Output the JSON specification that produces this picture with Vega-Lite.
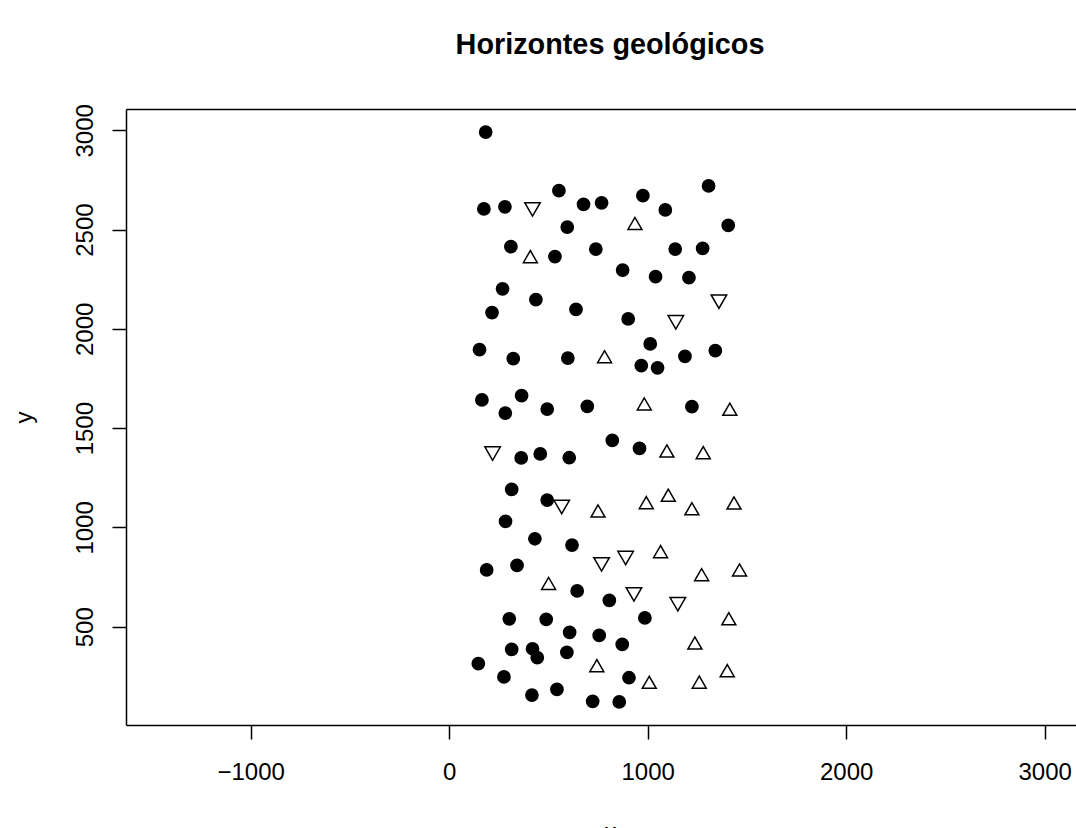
{
  "$schema": "https://vega.github.io/schema/vega-lite/v6.json",
  "width": 950,
  "height": 616,
  "autosize": {"type": "none"},
  "padding": {"left": 126, "top": 109, "right": 0, "bottom": 103},
  "background": "white",
  "config": {"view": {"stroke": null}, "font": "Liberation Sans"},
  "title": {
    "text": "Horizontes geológicos",
    "fontSize": 28.8,
    "fontWeight": "bold",
    "font": "Liberation Sans",
    "color": "black",
    "anchor": "middle",
    "dx": 9,
    "baseline": "alphabetic",
    "offset": 21
  },
  "data": {
    "values": [
      {"x": 184, "y": 2991, "grupo": "H1"},
      {"x": 1307, "y": 2720, "grupo": "H1"},
      {"x": 553, "y": 2696, "grupo": "H1"},
      {"x": 976, "y": 2671, "grupo": "H1"},
      {"x": 677, "y": 2627, "grupo": "H1"},
      {"x": 768, "y": 2635, "grupo": "H1"},
      {"x": 175, "y": 2604, "grupo": "H1"},
      {"x": 281, "y": 2615, "grupo": "H1"},
      {"x": 1089, "y": 2599, "grupo": "H1"},
      {"x": 595, "y": 2513, "grupo": "H1"},
      {"x": 1406, "y": 2521, "grupo": "H1"},
      {"x": 311, "y": 2414, "grupo": "H1"},
      {"x": 533, "y": 2364, "grupo": "H1"},
      {"x": 739, "y": 2402, "grupo": "H1"},
      {"x": 1139, "y": 2402, "grupo": "H1"},
      {"x": 1277, "y": 2406, "grupo": "H1"},
      {"x": 874, "y": 2296, "grupo": "H1"},
      {"x": 1040, "y": 2263, "grupo": "H1"},
      {"x": 1208, "y": 2258, "grupo": "H1"},
      {"x": 269, "y": 2202, "grupo": "H1"},
      {"x": 437, "y": 2147, "grupo": "H1"},
      {"x": 216, "y": 2082, "grupo": "H1"},
      {"x": 639, "y": 2098, "grupo": "H1"},
      {"x": 902, "y": 2050, "grupo": "H1"},
      {"x": 153, "y": 1895, "grupo": "H1"},
      {"x": 323, "y": 1850, "grupo": "H1"},
      {"x": 598, "y": 1853, "grupo": "H1"},
      {"x": 1013, "y": 1924, "grupo": "H1"},
      {"x": 968, "y": 1815, "grupo": "H1"},
      {"x": 1050, "y": 1804, "grupo": "H1"},
      {"x": 1188, "y": 1862, "grupo": "H1"},
      {"x": 1341, "y": 1890, "grupo": "H1"},
      {"x": 165, "y": 1642, "grupo": "H1"},
      {"x": 365, "y": 1664, "grupo": "H1"},
      {"x": 283, "y": 1576, "grupo": "H1"},
      {"x": 494, "y": 1596, "grupo": "H1"},
      {"x": 696, "y": 1610, "grupo": "H1"},
      {"x": 1223, "y": 1608, "grupo": "H1"},
      {"x": 822, "y": 1439, "grupo": "H1"},
      {"x": 959, "y": 1398, "grupo": "H1"},
      {"x": 363, "y": 1350, "grupo": "H1"},
      {"x": 459, "y": 1370, "grupo": "H1"},
      {"x": 605, "y": 1351, "grupo": "H1"},
      {"x": 315, "y": 1192, "grupo": "H1"},
      {"x": 494, "y": 1138, "grupo": "H1"},
      {"x": 284, "y": 1031, "grupo": "H1"},
      {"x": 432, "y": 943, "grupo": "H1"},
      {"x": 619, "y": 911, "grupo": "H1"},
      {"x": 189, "y": 786, "grupo": "H1"},
      {"x": 342, "y": 809, "grupo": "H1"},
      {"x": 645, "y": 680, "grupo": "H1"},
      {"x": 807, "y": 633, "grupo": "H1"},
      {"x": 303, "y": 540, "grupo": "H1"},
      {"x": 489, "y": 537, "grupo": "H1"},
      {"x": 986, "y": 544, "grupo": "H1"},
      {"x": 607, "y": 472, "grupo": "H1"},
      {"x": 756, "y": 456, "grupo": "H1"},
      {"x": 872, "y": 411, "grupo": "H1"},
      {"x": 315, "y": 386, "grupo": "H1"},
      {"x": 420, "y": 389, "grupo": "H1"},
      {"x": 444, "y": 344, "grupo": "H1"},
      {"x": 593, "y": 371, "grupo": "H1"},
      {"x": 147, "y": 314, "grupo": "H1"},
      {"x": 276, "y": 247, "grupo": "H1"},
      {"x": 906, "y": 243, "grupo": "H1"},
      {"x": 417, "y": 156, "grupo": "H1"},
      {"x": 543, "y": 184, "grupo": "H1"},
      {"x": 723, "y": 124, "grupo": "H1"},
      {"x": 857, "y": 121, "grupo": "H1"},
      {"x": 936, "y": 2531, "grupo": "H2"},
      {"x": 409, "y": 2364, "grupo": "H2"},
      {"x": 783, "y": 1860, "grupo": "H2"},
      {"x": 983, "y": 1622, "grupo": "H2"},
      {"x": 1414, "y": 1595, "grupo": "H2"},
      {"x": 1097, "y": 1385, "grupo": "H2"},
      {"x": 1280, "y": 1377, "grupo": "H2"},
      {"x": 993, "y": 1125, "grupo": "H2"},
      {"x": 1104, "y": 1162, "grupo": "H2"},
      {"x": 1223, "y": 1094, "grupo": "H2"},
      {"x": 1435, "y": 1123, "grupo": "H2"},
      {"x": 750, "y": 1083, "grupo": "H2"},
      {"x": 1065, "y": 878, "grupo": "H2"},
      {"x": 1272, "y": 762, "grupo": "H2"},
      {"x": 1463, "y": 786, "grupo": "H2"},
      {"x": 501, "y": 718, "grupo": "H2"},
      {"x": 1409, "y": 540, "grupo": "H2"},
      {"x": 1238, "y": 418, "grupo": "H2"},
      {"x": 744, "y": 304, "grupo": "H2"},
      {"x": 1008, "y": 220, "grupo": "H2"},
      {"x": 1260, "y": 221, "grupo": "H2"},
      {"x": 1401, "y": 279, "grupo": "H2"},
      {"x": 420, "y": 2602, "grupo": "H3"},
      {"x": 1359, "y": 2137, "grupo": "H3"},
      {"x": 1142, "y": 2033, "grupo": "H3"},
      {"x": 219, "y": 1372, "grupo": "H3"},
      {"x": 567, "y": 1103, "grupo": "H3"},
      {"x": 768, "y": 814, "grupo": "H3"},
      {"x": 889, "y": 846, "grupo": "H3"},
      {"x": 931, "y": 663, "grupo": "H3"},
      {"x": 1152, "y": 613, "grupo": "H3"}
    ]
  },
  "layer": [
    {
      "mark": {"type": "point", "filled": true, "opacity": 1, "strokeWidth": 1.5},
      "encoding": {
        "x": {
          "field": "x",
          "type": "quantitative",
          "scale": {"domain": [-1628, 3158], "nice": false, "zero": false},
          "axis": {
            "orient": "bottom",
            "values": [-1000, 0, 1000, 2000, 3000],
            "format": "d",
            "grid": false,
            "domainColor": "black",
            "domainWidth": 1.5,
            "tickColor": "black",
            "tickWidth": 1.5,
            "tickSize": 14,
            "labelFontSize": 24,
            "labelFont": "Liberation Sans",
            "labelColor": "black",
            "labelBaseline": "alphabetic",
            "labelPadding": 40,
            "labelFlush": false,
            "labelOverlap": false,
            "title": "x",
            "titleFont": "Liberation Sans",
            "titleFontSize": 24,
            "titleFontWeight": "normal",
            "titleColor": "black",
            "titleX": 484,
            "titleY": 114,
            "titleAlign": "center",
            "titleBaseline": "alphabetic"
          }
        },
        "y": {
          "field": "y",
          "type": "quantitative",
          "scale": {"domain": [5, 3107.4], "nice": false, "zero": false},
          "axis": {
            "orient": "left",
            "values": [500, 1000, 1500, 2000, 2500, 3000],
            "format": "d",
            "grid": false,
            "domainColor": "black",
            "domainWidth": 1.5,
            "tickColor": "black",
            "tickWidth": 1.5,
            "tickSize": 14,
            "labelFontSize": 24,
            "labelFont": "Liberation Sans",
            "labelColor": "black",
            "labelAngle": -90,
            "labelAlign": "center",
            "labelBaseline": "alphabetic",
            "labelPadding": 20,
            "labelFlush": false,
            "labelOverlap": false,
            "title": "y",
            "titleFont": "Liberation Sans",
            "titleFontSize": 24,
            "titleFontWeight": "normal",
            "titleColor": "black",
            "titleAngle": -90,
            "titleX": -95,
            "titleY": 308,
            "titleAlign": "center",
            "titleBaseline": "alphabetic"
          }
        },
        "shape": {
          "field": "grupo",
          "type": "nominal",
          "scale": {"domain": ["H1", "H2", "H3"], "range": ["circle", "triangle-up", "triangle-down"]},
          "legend": null
        },
        "fill": {
          "field": "grupo",
          "type": "nominal",
          "scale": {"domain": ["H1", "H2", "H3"], "range": ["black", "transparent", "transparent"]},
          "legend": null
        },
        "size": {
          "field": "grupo",
          "type": "nominal",
          "scale": {"domain": ["H1", "H2", "H3"], "range": [150, 240, 240]},
          "legend": null
        },
        "stroke": {"value": "black"}
      }
    },
    {
      "mark": {"type": "point", "opacity": 0},
      "encoding": {
        "x": {
          "field": "x",
          "type": "quantitative",
          "axis": {
            "orient": "top",
            "domain": true,
            "domainColor": "black",
            "domainWidth": 1.5,
            "ticks": false,
            "labels": false,
            "grid": false,
            "title": null
          }
        }
      }
    }
  ],
  "resolve": {"axis": {"x": "independent"}}
}
